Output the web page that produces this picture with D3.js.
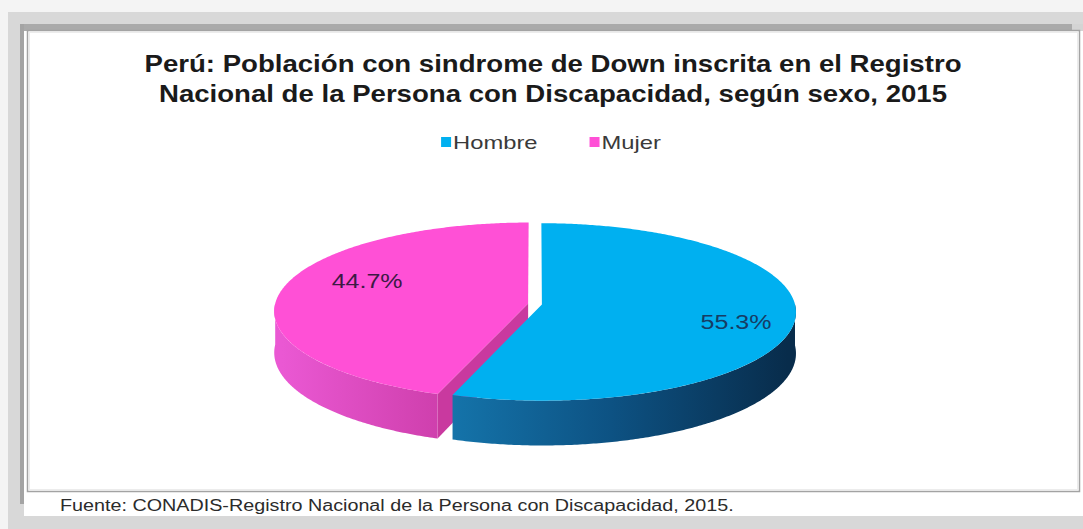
<!DOCTYPE html>
<html>
<head>
<meta charset="utf-8">
<script src="https://cdn.jsdelivr.net/npm/d3@7"></script>
<style>
  html, body { margin: 0; padding: 0; background: #f4f4f4; overflow: hidden; }
  svg { display: block; font-family: "Liberation Sans", Arial, sans-serif; }
</style>
</head>
<body>
<svg id="chart" width="1083" height="529"></svg>
<script>
// ---- data ----
const categories = ["Hombre", "Mujer"];
const shares = [55.3, 44.7];
const shareLabels = ["55.3%", "44.7%"];
const titleLines = [
  "Perú: Población con sindrome de Down inscrita en el Registro",
  "Nacional de la Persona con Discapacidad, según sexo, 2015"
];
const sourceNote = "Fuente: CONADIS-Registro Nacional de la Persona con Discapacidad, 2015.";

// ---- styling / layout ----
const W = 1083, H = 529;
const TEXT_SX = 1.25;              // default horizontal stretch of the lettering
const topColor = d3.scaleOrdinal(categories, ["#00b0f0", "#ff50d6"]);
const wallColor = d3.scaleOrdinal(categories, ["#0d5a8a", "#c9399f"]);
const sideStops = {
  Hombre: [["0%", "#2a9bd8"], ["35%", "#1472a8"], ["65%", "#0d5283"], ["100%", "#082c4b"]],
  Mujer:  [["0%", "#ea58d3"], ["35%", "#cb3ca8"], ["100%", "#8e2277"]]
};
const labelColor = d3.scaleOrdinal(categories, ["#163c64", "#3c1a44"]);
// label placement: extra turn past the slice bisector (radians) and radial fraction
const labelPlace = { Hombre: { turn: 0.096, r: 0.78 }, Mujer: { turn: 0.21, r: 0.70 } };

// pie geometry (projected 3-D disc)
const G = { cx: 535, cy: 304, rx: 253, ry: 88, persp: 0.085, depth: 41, explode: 7 / 253 };

const svg = d3.select("#chart");
const defs = svg.append("defs");

// ---- page frame ----
svg.append("rect").attr("width", W).attr("height", H).attr("fill", "#f4f4f4");
svg.append("rect").attr("x", 8).attr("y", 12).attr("width", W - 8).attr("height", H - 12).attr("fill", "#d8d8d8");
svg.append("rect").attr("x", 20).attr("y", 24).attr("width", 1052).attr("height", 7).attr("fill", "#aaaaaa");
svg.append("rect").attr("x", 20).attr("y", 24).attr("width", 4).attr("height", 480).attr("fill", "#a4a4a4");
svg.append("rect").attr("x", 24).attr("y", 31).attr("width", W - 24).attr("height", 485).attr("fill", "#ffffff");
svg.append("rect").attr("x", 1072).attr("y", 24).attr("width", W - 1072).attr("height", 7).attr("fill", "#d4d4d4");
svg.append("rect").attr("x", 27.5).attr("y", 30.5).attr("width", 1052).attr("height", 461)
  .attr("fill", "#ffffff").attr("stroke", "#a3a3a3").attr("stroke-width", 1.5);
svg.append("rect").attr("x", 29.5).attr("y", 32.5).attr("width", 1048).attr("height", 457)
  .attr("fill", "none").attr("stroke", "#ececec").attr("stroke-width", 1);

// ---- text helper (horizontally stretched lettering) ----
function stretched(parent, x, y, str, sx = TEXT_SX) {
  return parent.append("g")
    .attr("transform", `translate(${x},${y}) scale(${sx},1)`)
    .append("text").text(str);
}

// ---- title ----
const titleG = svg.append("g");
titleLines.forEach((line, i) => {
  stretched(titleG, 553, 72 + i * 30, line, 1.2)
    .attr("text-anchor", "middle")
    .attr("font-size", 23).attr("font-weight", "bold").attr("fill", "#1a1a1a");
});

// ---- legend ----
const legendG = svg.append("g");
const sw = 10, pad = 2, gap = 52, legendY = 142;
const items = categories.map(c => {
  const g = legendG.append("g");
  const t = stretched(g, 0, legendY + 7, c).attr("font-size", 19).attr("fill", "#3a3a3a");
  return { c, g, t, w: t.node().getComputedTextLength() * TEXT_SX };
});
const totalW = d3.sum(items, d => sw + pad + d.w) + gap * (items.length - 1);
let lx = 551 - totalW / 2;
items.forEach(d => {
  d.g.append("rect").attr("x", lx).attr("y", legendY - 5).attr("width", sw).attr("height", 10)
    .attr("fill", topColor(d.c));
  d.t.node().parentNode.setAttribute("transform", `translate(${lx + sw + pad},${legendY + 7}) scale(${TEXT_SX},1)`);
  lx += sw + pad + d.w + gap;
});

// ---- 3-D pie ----
function project(u, v, z) {
  const f = 1 / (1 + G.persp * v);
  return [G.cx + G.rx * u * f, G.cy - G.ry * v * f + z * f];
}
function pt(s, theta, r, z) {
  return project(s.ou + r * Math.sin(theta), s.ov + r * Math.cos(theta), z);
}
function arcPts(s, a0, a1, z) {
  const n = Math.max(2, Math.ceil(Math.abs(a1 - a0) / 0.01));
  return d3.range(n + 1).map(i => pt(s, a0 + (a1 - a0) * i / n, 1, z));
}
const line = d3.line().curve(d3.curveLinear);

const arcs = d3.pie().sort(null).value(d => d)(shares).map((a, i) => {
  const mid = (a.startAngle + a.endAngle) / 2;
  return {
    ...a, cat: categories[i], label: shareLabels[i], mid,
    ou: G.explode * Math.sin(mid), ov: G.explode * Math.cos(mid)
  };
});

// side gradients (lighting falls off from left to right)
categories.forEach(c => {
  const lg = defs.append("linearGradient").attr("id", "side-" + c)
    .attr("gradientUnits", "userSpaceOnUse")
    .attr("x1", G.cx - G.rx).attr("x2", G.cx + G.rx).attr("y1", 0).attr("y2", 0);
  sideStops[c].forEach(([o, col]) => lg.append("stop").attr("offset", o).attr("stop-color", col));
});

const pieG = svg.append("g");
// farther slices first
const order = arcs.slice().sort((a, b) => Math.cos(b.mid) - Math.cos(a.mid));
order.forEach(s => {
  const g = pieG.append("g");
  const c0 = pt(s, 0, 0, 0), c1 = pt(s, 0, 0, G.depth);
  // radial walls facing the viewer
  [[s.startAngle, Math.sin(s.startAngle)], [s.endAngle, -Math.sin(s.endAngle)]].forEach(([ang, nv]) => {
    if (nv < -1e-6) {
      const p0 = pt(s, ang, 1, 0), p1 = pt(s, ang, 1, G.depth);
      g.append("path").attr("d", line([c0, p0, p1, c1]) + "Z").attr("fill", wallColor(s.cat));
    }
  });
  // outer rim on the front half
  const f0 = Math.max(s.startAngle, Math.PI / 2), f1 = Math.min(s.endAngle, 3 * Math.PI / 2);
  if (f1 > f0) {
    const topArc = arcPts(s, f0, f1, 0);
    const botArc = arcPts(s, f1, f0, G.depth);
    g.append("path").attr("d", line(topArc.concat(botArc)) + "Z").attr("fill", `url(#side-${s.cat})`);
  }
  // top face
  g.append("path")
    .attr("d", line([c0].concat(arcPts(s, s.startAngle, s.endAngle, 0))) + "Z")
    .attr("fill", topColor(s.cat));
});

// value labels
arcs.forEach(s => {
  const lp = labelPlace[s.cat];
  const [x, y] = pt(s, s.mid + lp.turn, lp.r, 0);
  stretched(pieG, x, y, s.label)
    .attr("text-anchor", "middle").attr("dominant-baseline", "central")
    .attr("font-size", 20).attr("fill", labelColor(s.cat));
});

// ---- source note ----
stretched(svg, 60, 511, sourceNote).attr("font-size", 15.8).attr("fill", "#2b2b2b");
</script>
</body>
</html>
